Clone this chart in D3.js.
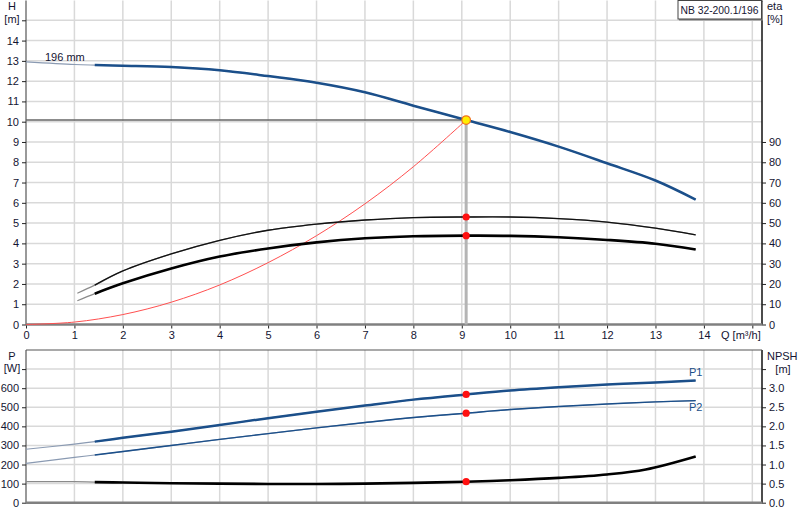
<!DOCTYPE html>
<html>
<head>
<meta charset="utf-8">
<script src="https://cdn.jsdelivr.net/npm/d3@7"></script>
<style>
  body { margin: 0; background: #fff; }
  svg { display: block; font-family: "Liberation Sans", Arial, sans-serif; }
  .grid line { stroke: #d9d9d9; stroke-width: 1.5; }
  .axis text { font-size: 11px; fill: #141432; }
  .axis line { stroke: #222; }
  .lbl { font-size: 11px; fill: #141432; }
</style>
</head>
<body>
<svg id="chart" width="800" height="520"></svg>
<script>
// pump curve, head in m
var Q_H   = [0, 1, 1.42, 2, 3, 4, 5, 6, 7, 8, 9.09, 10, 11, 12, 13, 13.83];
var H_VAL = [12.95, 12.82, 12.79, 12.76, 12.7, 12.54, 12.25, 11.92, 11.45, 10.79, 10.08, 9.49, 8.77, 7.95, 7.1, 6.16];

// system curve
var Q_SYS = [0, 1, 2, 3, 4, 5, 6, 7, 8, 9.09];
var H_SYS = [0, 0.12, 0.49, 1.1, 1.95, 3.05, 4.38, 5.95, 7.78, 10.08];

// efficiency in %
var Q_ETA     = [1.06, 1.42, 2, 3, 4, 5, 6, 7, 8, 9.09, 10, 11, 12, 13, 13.83];
var ETA_PUMP  = [15.4, 19.4, 26.4, 34.8, 41.5, 46.5, 49.5, 51.5, 52.7, 53.0, 53.0, 52.2, 50.5, 47.5, 44.2];
var ETA_TOTAL = [11.7, 15.2, 20.3, 27.6, 33.5, 37.5, 40.5, 42.5, 43.5, 43.8, 43.7, 43.0, 41.7, 39.8, 37.0];

// power in W
var Q_P = [0, 1, 1.42, 2, 3, 4, 5, 6, 7, 8, 9.09, 10, 11, 12, 13, 13.83];
var P1  = [280, 307, 320, 340, 372, 407, 443, 477, 509, 540, 567, 588, 605, 619, 630, 640];
var P2  = [206, 237, 250, 268, 300, 332, 362, 392, 420, 446, 469, 488, 504, 517, 528, 535];

// npsh in m
var Q_NPSH = [0, 1, 1.42, 2, 3, 4, 5, 6, 7, 8, 9.09, 10, 11, 12, 12.8, 13.83];
var NPSH   = [0.55, 0.55, 0.54, 0.53, 0.51, 0.5, 0.49, 0.49, 0.5, 0.52, 0.55, 0.59, 0.65, 0.74, 0.87, 1.21];

var DUTY_Q = 9.09;
var Q_THICK = 1.42;

var Q_TICKS    = [0, 1, 2, 3, 4, 5, 6, 7, 8, 9, 10, 11, 12, 13, 14, 15];
var H_TICKS    = [0, 1, 2, 3, 4, 5, 6, 7, 8, 9, 10, 11, 12, 13, 14, 15];
var ETA_TICKS  = [0, 10, 20, 30, 40, 50, 60, 70, 80, 90];
var P_TICKS    = [0, 100, 200, 300, 400, 500, 600, 700];
var NPSH_TICKS = [0, 0.5, 1, 1.5, 2, 2.5, 3, 3.5];

var svg = d3.select("#chart");
var left = 26, right = 762;
var topY0 = 0.5, topY1 = 324.5, botY0 = 350, botY1 = 502.7;
var blue = "#1b4f8a";

var x = d3.scaleLinear().domain([0, 15.2]).range([left, right]);
var yH = d3.scaleLinear().domain([0, 16]).range([topY1, topY1 - 16 * 20.28]);
var yEta = d3.scaleLinear().domain([0, 160]).range(yH.range());
var yP = d3.scaleLinear().domain([0, 800]).range([botY1, botY0]);
var yN = d3.scaleLinear().domain([0, 4]).range(yP.range());

function zip(qs, vs) { return qs.map(function(q, i) { return [q, vs[i]]; }); }

// grids
function grid(y0, y1, yScale, yVals) {
	var g = svg.append("g").attr("class", "grid");
	g.selectAll("line.v").data(Q_TICKS.slice(1)).enter().append("line")
		.attr("x1", function(d) { return x(d); }).attr("x2", function(d) { return x(d); })
		.attr("y1", y0).attr("y2", y1);
	g.selectAll("line.h").data(yVals).enter().append("line")
		.attr("x1", left).attr("x2", right)
		.attr("y1", function(d) { return yScale(d); }).attr("y2", function(d) { return yScale(d); });
}
grid(topY0, topY1, yH, H_TICKS.slice(1));
grid(botY0, botY1, yP, P_TICKS.slice(1));

// frames
function frame(y0, y1, topLine) {
	svg.append("line").attr("x1", left).attr("x2", left).attr("y1", y0).attr("y2", y1)
		.attr("stroke", "#555").attr("stroke-width", 1.2);
	svg.append("line").attr("x1", right).attr("x2", right).attr("y1", y0).attr("y2", y1)
		.attr("stroke", "#111").attr("stroke-width", 1.5);
	if (topLine) {
		svg.append("line").attr("x1", left).attr("x2", right).attr("y1", y0).attr("y2", y0)
			.attr("stroke", "#555").attr("stroke-width", 1.2);
	}
}
frame(topY0, topY1, false);
frame(botY0, botY1, true);

// axes
function styleAxis(g) {
	g.select(".domain").remove();
	g.selectAll("line").attr("stroke", "#222");
	return g;
}
svg.append("g").attr("class", "axis").attr("transform", "translate(" + left + ",0)")
	.call(d3.axisLeft(yH).tickValues(H_TICKS).tickSize(4).tickPadding(3)
		.tickFormat(function(d) { return d == 15 ? "" : d; }))
	.call(styleAxis);
svg.append("g").attr("class", "axis").attr("transform", "translate(" + right + ",0)")
	.call(d3.axisRight(yEta).tickValues(ETA_TICKS).tickSize(4).tickPadding(3))
	.call(styleAxis);
svg.append("g").attr("class", "axis").attr("transform", "translate(0," + topY1 + ")")
	.call(d3.axisBottom(x).tickValues(Q_TICKS).tickSize(4).tickPadding(3)
		.tickFormat(function(d) { return d == 15 ? "" : d; }))
	.call(styleAxis);
svg.append("g").attr("class", "axis").attr("transform", "translate(" + left + ",0)")
	.call(d3.axisLeft(yP).tickValues(P_TICKS).tickSize(4).tickPadding(3)
		.tickFormat(function(d) { return d == 700 ? "" : d; }))
	.call(styleAxis);
svg.append("g").attr("class", "axis").attr("transform", "translate(" + right + ",0)")
	.call(d3.axisRight(yN).tickValues(NPSH_TICKS).tickSize(4).tickPadding(3)
		.tickFormat(function(d) { return d == 3.5 ? "" : d3.format(".1f")(d); }))
	.call(styleAxis);

// bottom lines of both plots
[topY1, botY1].forEach(function(yy) {
	svg.append("line").attr("x1", left).attr("x2", right).attr("y1", yy).attr("y2", yy)
		.attr("stroke", "#808080").attr("stroke-width", 2.5);
});

// axis titles
function label(txt, xx, yy, anchor, color) {
	return svg.append("text").attr("class", "lbl").attr("x", xx).attr("y", yy)
		.attr("text-anchor", anchor || "start").style("fill", color || null).text(txt);
}
label("H", 12, 10, "middle");
label("[m]", 12, 23, "middle");
label("eta", 767, 10);
label("[%]", 767, 23);
label("Q [m\u00b3/h]", 721, 339);
label("P", 12, 360, "middle");
label("[W]", 12, 372, "middle");
label("NPSH", 767, 360);
label("[m]", 783, 373, "middle");
label("196 mm", 45, 61);

// title box
svg.append("rect").attr("x", 679).attr("y", 1.5).attr("width", 84).attr("height", 19)
	.attr("fill", "#888");
svg.append("rect").attr("x", 678).attr("y", 0.5).attr("width", 83.5).attr("height", 18.5)
	.attr("fill", "#fff").attr("stroke", "#444");
label("NB 32-200.1/196", 680.5, 14)
	.attr("textLength", 78).attr("lengthAdjust", "spacingAndGlyphs");

// reference lines at the duty point
var hDuty = H_VAL[Q_H.indexOf(DUTY_Q)];
svg.append("line").attr("x1", x(DUTY_Q)).attr("x2", x(DUTY_Q))
	.attr("y1", yH(hDuty)).attr("y2", topY1)
	.attr("stroke", "#b4b4b4").attr("stroke-width", 3);
svg.append("line").attr("x1", left).attr("x2", x(DUTY_Q))
	.attr("y1", yH(hDuty)).attr("y2", yH(hDuty))
	.attr("stroke", "#666").attr("stroke-width", 1.5);

// curves
function drawCurve(data, yScale, color, width, thinColor, thinWidth) {
	var line = d3.line()
		.x(function(d) { return x(d[0]); })
		.y(function(d) { return yScale(d[1]); })
		.curve(d3.curveCatmullRom.alpha(0.5));
	svg.append("path").datum(data).attr("d", line)
		.attr("fill", "none").attr("stroke", thinColor).attr("stroke-width", thinWidth);
	svg.append("path").datum(data.filter(function(d) { return d[0] >= Q_THICK; }))
		.attr("d", line).attr("fill", "none")
		.attr("stroke", color).attr("stroke-width", width);
}

var sysLine = d3.line()
	.x(function(d) { return x(d[0]); })
	.y(function(d) { return yH(d[1]); })
	.curve(d3.curveCatmullRom.alpha(0.5));
svg.append("path").datum(zip(Q_SYS, H_SYS)).attr("d", sysLine)
	.attr("fill", "none").attr("stroke", "#ff5050").attr("stroke-width", 1);

drawCurve(zip(Q_H, H_VAL), yH, blue, 2.5, "#8a9ab2", 1.2);
drawCurve(zip(Q_ETA, ETA_PUMP), yEta, "#111", 1.4, "#8a8a8a", 1.2);
drawCurve(zip(Q_ETA, ETA_TOTAL), yEta, "#000", 2.6, "#8a8a8a", 1.2);
drawCurve(zip(Q_P, P1), yP, blue, 2.5, "#8a9ab2", 1.2);
drawCurve(zip(Q_P, P2), yP, blue, 1.4, "#8a9ab2", 1.2);
drawCurve(zip(Q_NPSH, NPSH), yN, "#000", 2.6, "#8a8a8a", 1.2);

label("P1", 689, 376, "start", blue);
label("P2", 689, 411, "start", blue);

// duty points
var dots = [
	[yEta, ETA_PUMP[Q_ETA.indexOf(DUTY_Q)]],
	[yEta, ETA_TOTAL[Q_ETA.indexOf(DUTY_Q)]],
	[yP, P1[Q_P.indexOf(DUTY_Q)]],
	[yP, P2[Q_P.indexOf(DUTY_Q)]],
	[yN, NPSH[Q_NPSH.indexOf(DUTY_Q)]]
];
svg.selectAll("circle.duty").data(dots).enter().append("circle")
	.attr("class", "duty")
	.attr("cx", x(DUTY_Q))
	.attr("cy", function(d) { return d[0](d[1]); })
	.attr("r", 3.6)
	.attr("fill", "#ff1010");
svg.append("circle").attr("cx", x(DUTY_Q)).attr("cy", yH(hDuty)).attr("r", 4.3)
	.attr("fill", "#ffee00").attr("stroke", "#f07020").attr("stroke-width", 1.2);
</script>
</body>
</html>
